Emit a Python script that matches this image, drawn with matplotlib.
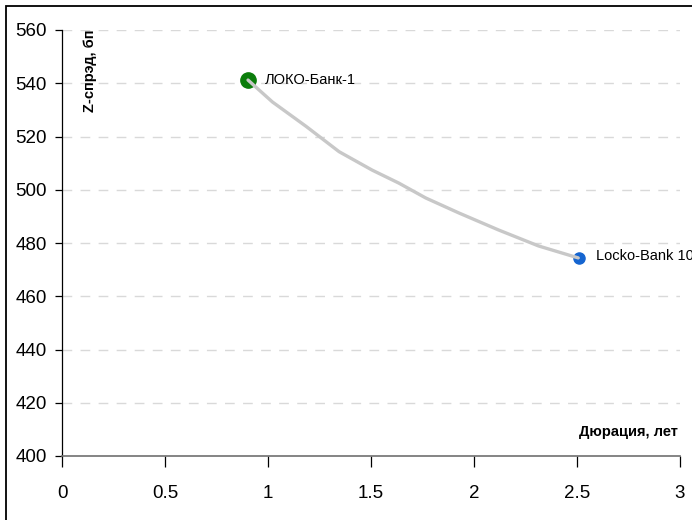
import numpy as np
import matplotlib.pyplot as plt
from matplotlib.patches import Rectangle

# data
bond_names = ['ЛОКО-Банк-1', 'Locko-Bank 10']
bond_dur = [0.903, 2.51]
bond_z = [541.2, 474.4]
bond_colors = ['#0b7d0b', '#1565d0']
bond_sizes = [11, 8]

# fitted curve between the two bonds
curve_x = [0.903, 1.021, 1.185, 1.345, 1.505, 1.635, 1.766, 1.926, 2.119, 2.313, 2.506]
curve_z = [541.2, 533.0, 523.8, 514.3, 507.4, 502.5, 496.9, 491.3, 484.9, 478.9, 474.4]

plt.rcParams['font.family'] = ['Liberation Sans Narrow', 'Liberation Sans', 'DejaVu Sans']

fig = plt.figure(figsize=(6.92, 5.2), dpi=100)
ax = fig.add_axes([62 / 692, 1 - 456 / 520, 618 / 692, 426 / 520])

ax.plot(curve_x, curve_z, color='#c8c8c8', lw=2.4, zorder=4, solid_capstyle='round')
for x, z, c, s in zip(bond_dur, bond_z, bond_colors, bond_sizes):
    ax.plot(x, z, 'o', color=c, ms=s, zorder=3)

ax.text(bond_dur[0] + 0.08, bond_z[0], bond_names[0], fontsize=10.5, va='center',
        family=['Liberation Sans', 'DejaVu Sans'])
ax.text(bond_dur[1] + 0.08, bond_z[1] + 0.6, bond_names[1], fontsize=10.5, va='center',
        family=['Liberation Sans', 'DejaVu Sans'], clip_on=False)

ax.set_xlim(0, 3)
ax.set_ylim(400, 560)
ax.set_xticks([0, 0.5, 1, 1.5, 2, 2.5, 3])
ax.set_xticklabels(['0', '0.5', '1', '1.5', '2', '2.5', '3'])
ax.set_yticks(np.arange(400, 561, 20))

for yv in np.arange(420, 561, 20):
    ax.axhline(yv, color='#d9d9d9', lw=1, dashes=(7, 6), zorder=1)

for side in ['top', 'right']:
    ax.spines[side].set_visible(False)
ax.spines['left'].set_color('black')
ax.spines['left'].set_linewidth(0.9)
ax.spines['bottom'].set_color('#707070')
ax.spines['bottom'].set_linewidth(1.2)

ax.tick_params(axis='x', direction='out', length=8, width=0.9, pad=13, labelsize=13.5)
ax.tick_params(axis='y', direction='out', length=5, width=0.9, pad=6, labelsize=13.5)

ax.text(0.045, 0.905, 'Z-спрэд, бп', transform=ax.transAxes, rotation=90,
        ha='center', va='center', fontsize=10.5, fontweight='bold',
        family=['Liberation Sans', 'DejaVu Sans'])
ax.text(0.997, 0.056, 'Дюрация, лет', transform=ax.transAxes, ha='right',
        va='center', fontsize=10.5, fontweight='bold',
        family=['Liberation Sans', 'DejaVu Sans'])

# outer frame of the picture
fig.patches.append(Rectangle((6 / 692, -0.1), 2, 1.1 - 6 / 520, transform=fig.transFigure,
                             fill=False, edgecolor='black', lw=1.3))

fig.savefig('out.png', dpi=100)
